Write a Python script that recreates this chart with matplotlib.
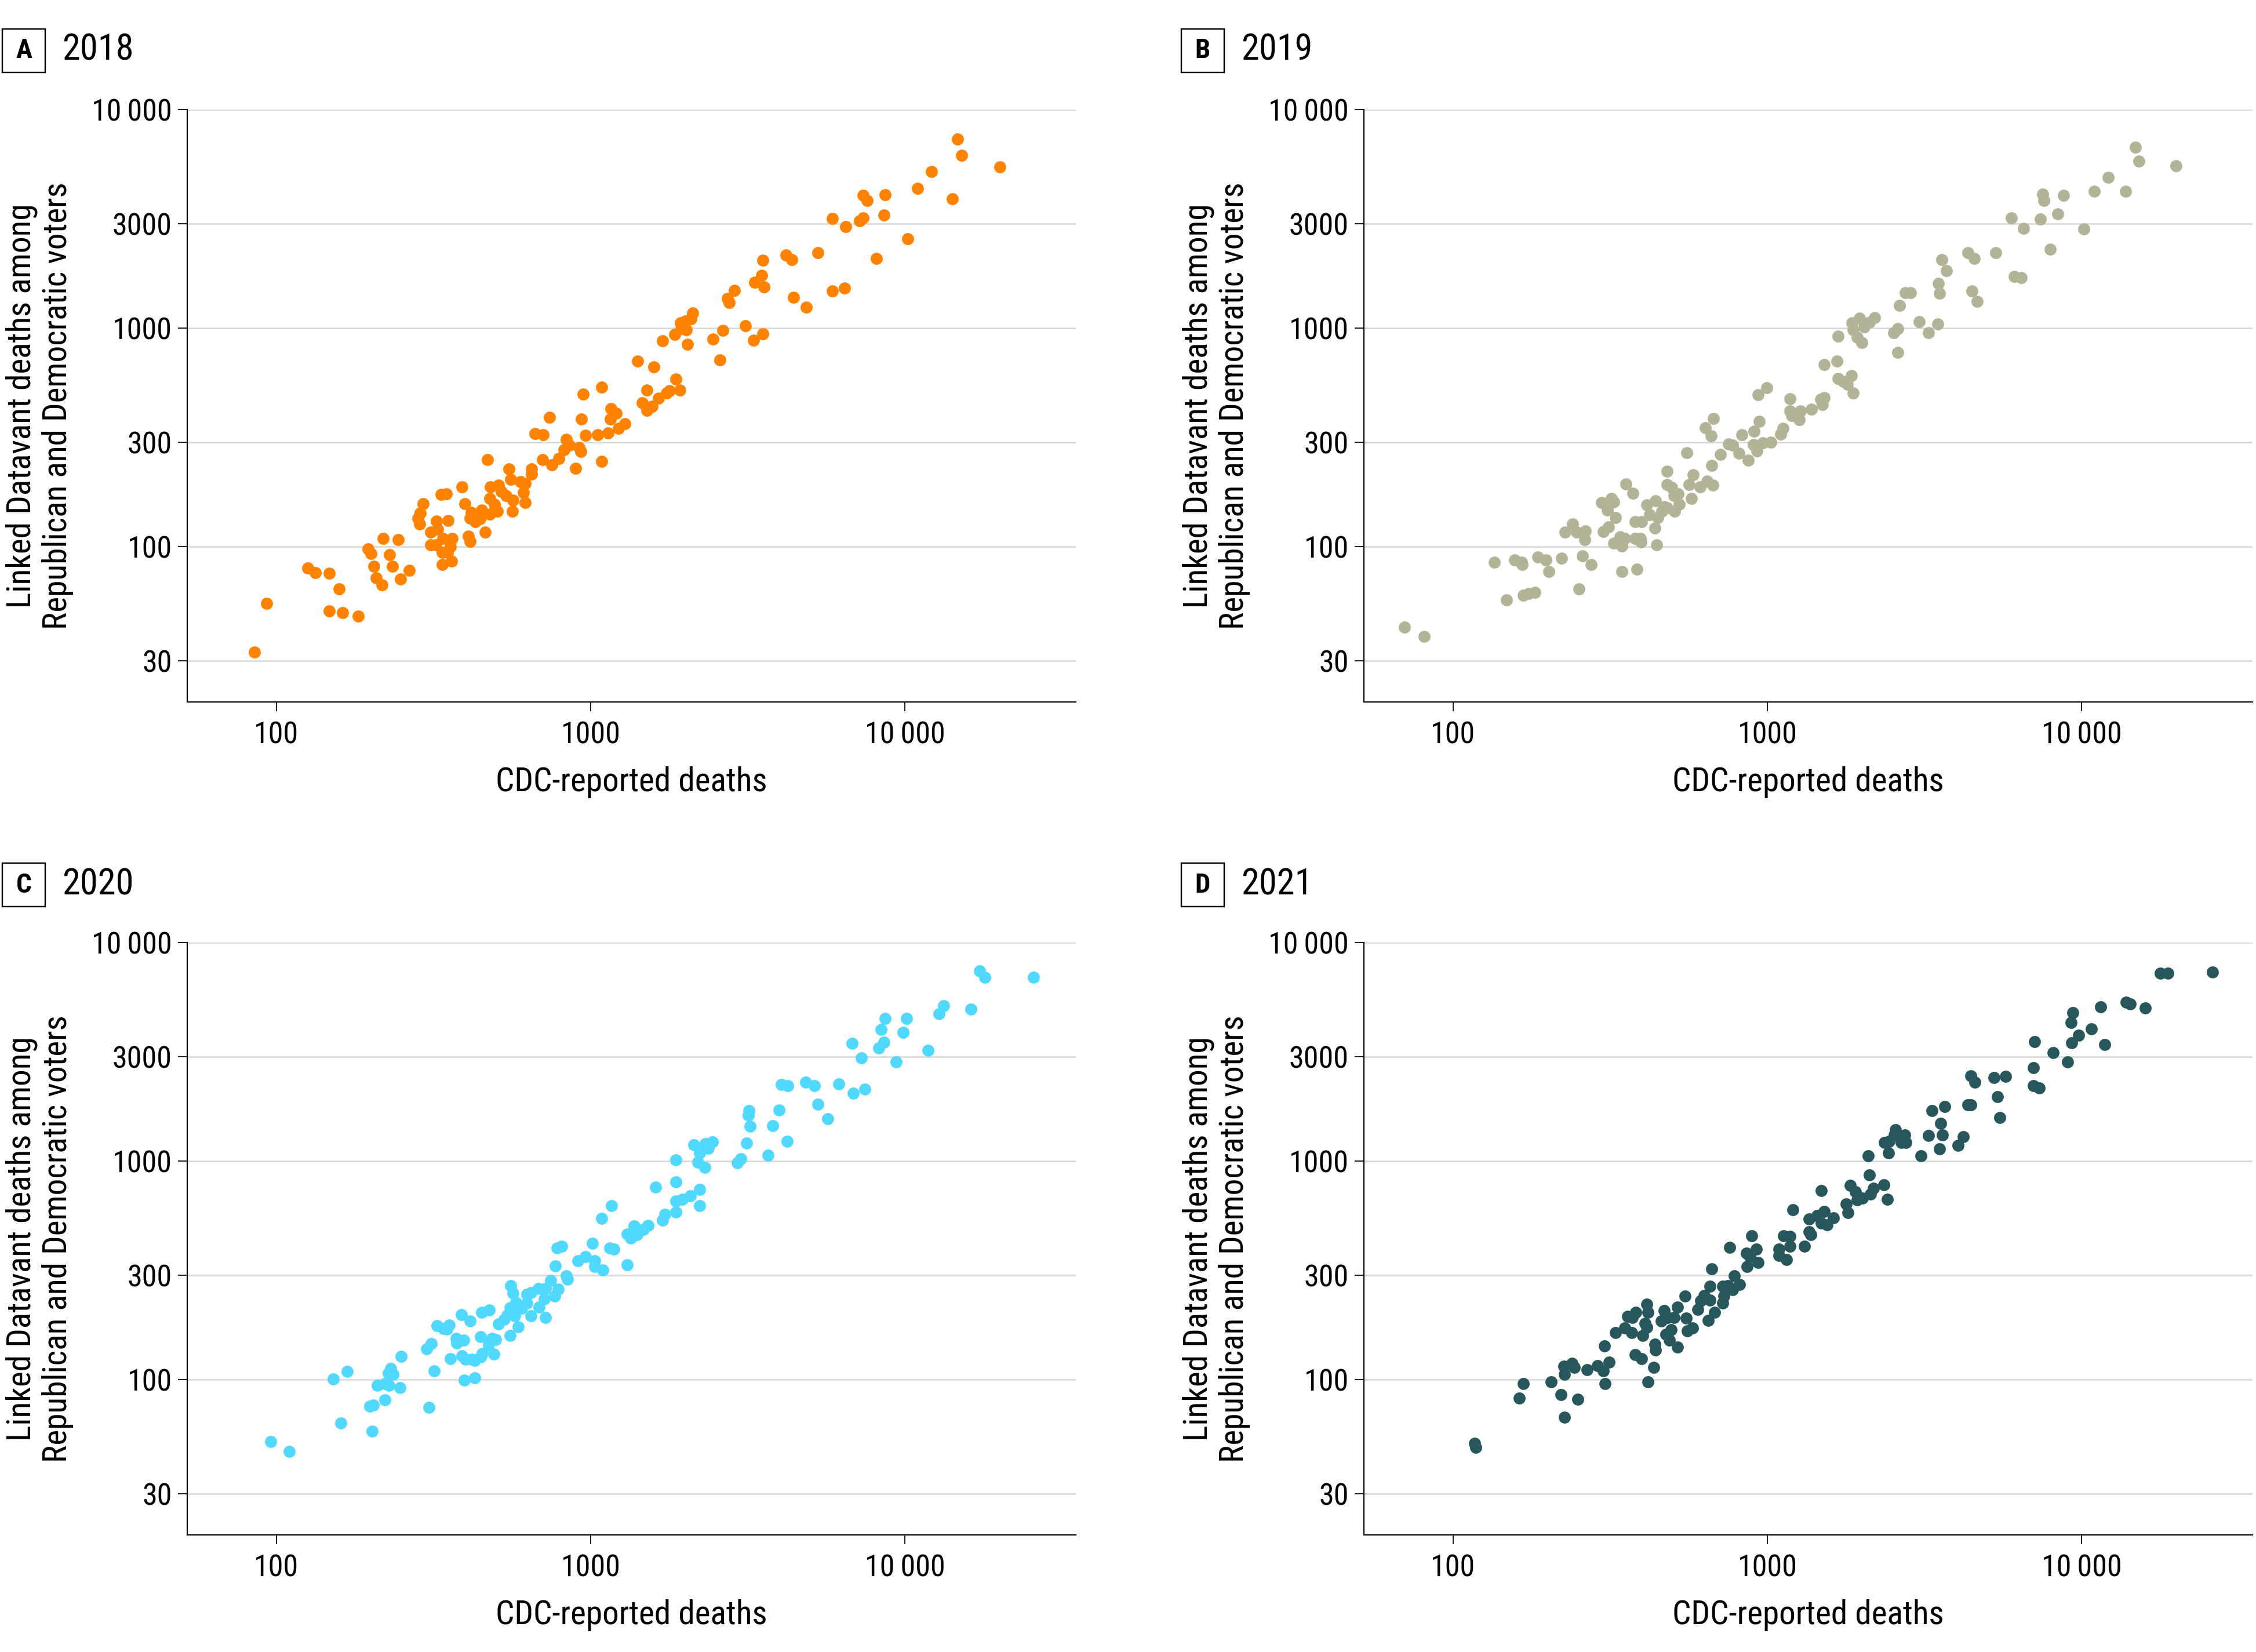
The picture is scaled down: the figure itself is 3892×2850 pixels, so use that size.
import numpy as np
import matplotlib
matplotlib.use("Agg")
import matplotlib.pyplot as plt
from matplotlib import font_manager
from matplotlib.patches import Rectangle

# (CDC-reported deaths, linked Datavant deaths) per state
deaths_2018 = [
    (85, 33), (93, 55), (126, 80), (133, 76), (147, 75.5), (147, 51), (162, 50), (158, 64), (182, 48),
    (196, 98), (200, 93), (219, 109), (244, 108), (204, 81.5), (208, 72), (217, 67), (229, 92), (234, 81.5),
    (248, 71), (265, 78), (282, 135), (287, 143), (293, 157), (285, 127), (309, 117), (323, 131), (326, 120),
    (309, 102), (322, 102), (334, 173), (347, 175), (352, 132), (339, 109), (363, 109), (337, 94), (350, 94),
    (358, 100), (337, 83), (361, 86), (389, 188), (398, 157), (417, 144), (413, 135), (430, 130), (450, 147),
    (445, 134), (408, 112), (413, 106), (461, 117), (470, 251), (480, 188), (477, 166), (493, 156), (477, 141),
    (504, 145), (509, 191), (520, 179), (537, 171), (550, 227), (556, 203), (566, 163), (564, 145), (599, 199),
    (619, 195), (610, 177), (619, 159), (648, 227), (648, 215), (665, 330), (705, 326), (702, 251), (741, 392),
    (752, 237), (791, 254), (835, 310), (853, 292), (821, 278), (895, 229), (917, 284), (930, 272), (945, 500),
    (933, 383), (964, 324), (1052, 326), (1084, 538), (1084, 245), (1135, 331), (1162, 428), (1206, 408),
    (1157, 383), (1224, 348), (1284, 366), (1409, 705), (1510, 521), (1462, 456), (1507, 420),
    (1592, 663), (1566, 440), (1644, 478), (1746, 504), (1783, 516), (1864, 583), (1920, 522), (1690, 874),
    (1848, 937), (1929, 1057), (1941, 995), (2001, 1078), (2018, 984), (2088, 1102), (2110, 1170), (2032, 843),
    (2455, 892), (2636, 975), (2576, 714), (2723, 1365), (2763, 1310), (2869, 1492), (3111, 1023), (3298, 878),
    (3537, 944), (3326, 1617), (3499, 1741), (3566, 1548), (3530, 2046), (4180, 2157), (4371, 2057),
    (4430, 1387), (4852, 1244), (5289, 2210), (5866, 3167), (5866, 1479), (6440, 1522), (6480, 2909),
    (7165, 3092), (7348, 3193), (7348, 4055), (7600, 3846), (8130, 2080), (8590, 3286), (8665, 4074),
    (10210, 2557), (10970, 4363), (12170, 5190), (14180, 3910), (14700, 7320), (15180, 6180), (20090, 5450),
]

deaths_2019 = [
    (70, 42.8), (81, 38.9), (135, 85), (148, 57), (157, 87), (165, 85), (166, 83), (167, 60), (174, 61),
    (182, 62), (186, 90), (197, 87), (202, 77), (221, 88.5), (227, 117), (240, 127), (247, 117), (263, 118),
    (262, 108), (258, 91), (275, 83), (251, 64), (297, 159), (310, 147), (319, 166), (325, 160), (328, 136),
    (300, 117.5), (312, 123), (325, 104), (340, 111), (352, 109), (344, 101), (345, 77), (354, 194), (374, 176),
    (379, 130), (397, 130), (379, 109), (395, 109), (396, 105), (384, 79), (414, 155), (440, 162), (423, 140),
    (448, 136), (439, 122), (445, 102), (480, 222), (480, 193), (496, 187), (505, 171), (520, 175), (469, 153),
    (461, 145), (479, 151), (507, 145), (524, 156), (553, 269), (564, 193), (581, 214), (572, 166), (610, 188),
    (644, 200), (672, 191), (634, 350), (673, 387), (662, 321), (666, 235), (709, 264), (752, 295), (776, 292),
    (812, 267), (830, 326), (869, 249), (906, 338), (904, 293), (925, 275), (935, 496), (942, 375), (967, 298),
    (994, 533), (1024, 301), (1102, 327), (1122, 347), (1182, 476), (1182, 417), (1195, 397), (1261, 381),
    (1274, 417), (1381, 425),
    (1476, 471), (1517, 480), (1500, 446), (1517, 683), (1663, 708), (1676, 918), (1676, 588), (1741, 571),
    (1796, 553), (1854, 605), (1874, 506), (1862, 1057), (1874, 983), (1935, 907), (2000, 857), (1963, 1110),
    (2031, 1016), (2113, 1067), (2197, 1119), (2528, 955), (2604, 995), (2604, 774), (2638, 1269), (2744, 1449),
    (2850, 1449), (3044, 1071), (3264, 955), (3491, 1045), (3499, 1598), (3537, 1445), (3590, 2055),
    (3722, 1834), (4355, 2210), (4560, 2088), (4483, 1479), (4650, 1327), (5330, 2210), (5980, 3193),
    (6535, 2863), (6095, 1726), (6415, 1698), (7380, 3155), (7520, 4104), (7600, 3846), (7960, 2300),
    (8410, 3326), (8770, 4055), (10150, 2851), (10970, 4240), (12150, 4884), (13830, 4230), (14830, 6726),
    (15210, 5810), (20000, 5520),
]

deaths_2020 = [
    (95.8, 52.2), (109.8, 47), (151.7, 101), (168, 109), (160, 63.2), (202, 58.3), (198, 75.5), (203, 76.7),
    (209.6, 94), (221, 96.2), (228, 94), (221, 80.9), (231, 112.7), (235, 106), (227.5, 107), (247, 92),
    (249.5, 128), (300, 138.7), (311, 146.6), (318, 110), (305.5, 74.6), (325, 176.6), (340, 171), (354, 178),
    (349, 170), (357, 124.7), (373, 154.5), (375, 147), (395, 152), (388, 198.6), (413, 185), (390, 128.8),
    (400, 123.8), (418, 124), (427, 122.7), (396, 99.8), (428, 101.9), (446, 127), (452, 131.5), (446, 157.8),
    (449, 203.6), (476, 208.6), (473, 144.4), (486, 154.5), (499, 152.8), (492, 131), (508, 179.5), (531, 189),
    (542, 197), (554, 159.7), (556, 270), (566, 249), (554, 213.8), (578, 225), (573, 195.6), (589, 174.6),
    (604, 212), (628, 224), (628, 246), (645, 250), (681, 262), (719, 262), (685, 215), (711, 234),
    (645, 195.6), (719, 193), (746, 284), (789, 259), (770, 241.5), (772, 331), (780, 400), (809, 408),
    (837, 299), (844, 288), (912, 350), (963, 365), (1029, 350), (1029, 330), (1094, 318), (1014, 420),
    (1082, 547), (1167, 627), (1152, 400), (1185, 395), (1306, 335), (1306, 465), (1343, 443), (1373, 504),
    (1403, 461), (1471, 486),
    (1520, 508), (1611, 762), (1691, 536), (1722, 569), (1867, 1011), (1867, 803), (1867, 656), (1867, 583),
    (1955, 667), (2080, 692), (2128, 1189), (2225, 1092), (2198, 986), (2307, 937), (2225, 743), (2225, 627),
    (2321, 1205), (2373, 1146), (2443, 1225), (2931, 984), (3006, 1023), (3134, 1209), (3170, 1617),
    (3190, 1698), (3222, 1444), (3665, 1066), (3792, 1456), (3983, 1711), (4217, 1233), (4043, 2237),
    (4240, 2218), (4843, 2291), (5146, 2210), (5290, 1819), (5670, 1560), (6149, 2254), (6860, 2046),
    (7465, 2130), (6793, 3449), (7265, 2970), (8245, 3286), (8570, 3490), (8395, 3990), (8635, 4505),
    (9375, 2840), (9860, 3890), (10130, 4505), (11860, 3220), (12820, 4710), (13270, 5150), (16220, 4965),
    (17290, 7410), (17980, 6920), (25660, 6920),
]

deaths_2021 = [
    (117, 51.2), (118, 49), (167, 95.9), (162, 82.6), (205, 97.8), (220, 85.6), (226, 67.4), (249, 81.5),
    (225, 115), (226, 106), (239, 119), (243, 114), (267, 111), (288, 116), (301, 110), (305, 95.9), (313, 120),
    (303, 143), (329, 164), (352, 172.6), (360, 195), (371, 193), (382, 203.6), (370, 164), (379, 130),
    (397, 124.7), (402, 158.9), (408, 181.6), (414, 173), (414, 222), (417, 203.6), (417, 97.8), (434, 113.7),
    (439, 145.5), (440, 136.5), (460, 185.4), (469, 207), (481, 193), (504, 193), (475, 161), (494, 169),
    (488, 151.4), (517, 215.4), (517, 140.8), (546, 241.5), (551, 191), (557, 167), (578, 172.6), (600, 209.4),
    (614, 229.6), (630, 243), (658, 231.7), (648, 187), (658, 267), (665, 320.6), (680, 203.6), (722, 224),
    (728, 241.5), (722, 267), (750, 269), (776, 258), (786, 298), (817, 272), (760, 402), (857, 380), (880, 365),
    (863, 330), (891, 456), (921, 395), (935, 343), (1089, 395), (1089, 371), (1148, 355), (1124, 456),
    (1182, 408), (1182, 452), (1208, 600), (1312, 408), (1358, 542), (1358, 476), (1377, 461), (1443, 565),
    (1485, 521), (1485, 735), (1518, 588), (1546, 510), (1621, 549), (1779, 638), (1808, 581), (1835, 774),
    (1906, 726), (1935, 664), (2010, 678), (2128, 705), (2174, 750), (2113, 863), (2094, 1057), (2350, 780),
    (2405, 670), (2355, 1218), (2443, 1233), (2432, 1092), (2558, 1393), (2535, 1321), (2667, 1218),
    (2740, 1321), (2762, 1218), (3076, 1057), (3257, 1306), (3335, 1698), (3560, 1491), (3610, 1321),
    (3525, 1137), (3675, 1782), (4045, 1180), (4210, 1295), (4352, 1804), (4437, 1804), (4449, 2454),
    (4581, 2298), (5270, 2404), (5737, 2443), (5393, 1965), (5488, 1585), (7015, 2210), (7346, 2165),
    (7040, 2673), (7098, 3519), (8113, 3142), (9014, 2839), (9290, 3476), (9270, 4307), (9385, 4786),
    (9800, 3756), (10750, 4021), (11830, 3420), (11510, 5085), (13870, 5339), (14280, 5230), (15950, 5025),
    (17780, 7230), (18830, 7230), (26070, 7320),
]

panel_letters = ["A", "B", "C", "D"]
panel_years = ["2018", "2019", "2020", "2021"]
panel_colors = ["#FF8200", "#B3B397", "#50D8FF", "#27575A"]

y_ticks = [30, 100, 300, 1000, 3000, 10000]
y_ticklabels = ["30", "100", "300", "1000", "3000", "10\u2009000"]
x_ticks = [100, 1000, 10000]
x_ticklabels = ["100", "1000", "10\u2009000"]


def pick_font():
    names = {f.name for f in font_manager.fontManager.ttflist}
    for cand in ["Liberation Sans Narrow", "Roboto Condensed", "Open Sans Condensed", "Noto Sans Condensed"]:
        if cand in names:
            return [cand, "DejaVu Sans"], "normal"
    for f in font_manager.fontManager.ttflist:
        if f.name == "DejaVu Sans" and f.stretch in ("condensed", "semi-condensed"):
            return ["DejaVu Sans"], "condensed"
    return ["DejaVu Sans"], "normal"


family, stretch = pick_font()
plt.rcParams["font.family"] = family
plt.rcParams["font.stretch"] = stretch
plt.rcParams["font.size"] = 15

fig = plt.figure(figsize=(15.568, 11.4), dpi=250)

W, H = 3892.0, 2850.0
ax_w = 1533 / W
ax_h = 1022 / H
ax_left = [323 / W, 2353 / W]
ax_bottom = [1 - 1211 / H, 1 - 2648 / H]
box_left = [4 / W, 2038 / W]
box_center = [1 - 87 / H, 1 - 1527 / H]

all_data = [deaths_2018, deaths_2019, deaths_2020, deaths_2021]

for i, data in enumerate(all_data):
    row, col = divmod(i, 2)
    ax = fig.add_axes([ax_left[col], ax_bottom[row], ax_w, ax_h])
    cdc = [d[0] for d in data]
    linked = [d[1] for d in data]
    ax.scatter(cdc, linked, s=36, color=panel_colors[i], linewidths=0, zorder=3)

    ax.set_xscale("log")
    ax.set_yscale("log")
    ax.set_xlim(52, 35000)
    ax.set_ylim(19.5, 10000)
    ax.set_xticks(x_ticks)
    ax.set_xticklabels(x_ticklabels)
    ax.set_yticks(y_ticks)
    ax.set_yticklabels(y_ticklabels)
    ax.minorticks_off()
    ax.tick_params(axis="both", length=4.5, width=0.5, color="black", labelsize=15)
    ax.tick_params(axis="x", pad=5)
    ax.tick_params(axis="y", pad=3)
    ax.grid(axis="y", color="#d9d9d9", linewidth=0.8, zorder=0)
    ax.set_axisbelow(True)
    for side in ["top", "right"]:
        ax.spines[side].set_visible(False)
    for side in ["left", "bottom"]:
        ax.spines[side].set_linewidth(0.6)

    ax.set_xlabel("CDC-reported deaths", fontsize=16.5, labelpad=8)
    ax.set_ylabel("Linked Datavant deaths among\nRepublican and Democratic voters",
                  fontsize=16.5, linespacing=1.15)
    ax.yaxis.set_label_coords(-0.128, 0.5)

    # panel letter box and year
    bw, bh = 74 / W, 75 / H
    bx = box_left[col]
    by = box_center[row] - bh / 2
    fig.patches.append(Rectangle((bx, by), bw, bh, transform=fig.transFigure,
                                 fill=False, edgecolor="black", linewidth=0.7))
    fig.text(bx + bw / 2, box_center[row], panel_letters[i], ha="center", va="center",
             fontsize=13.5, fontweight="bold")
    fig.text(bx + 103 / W, box_center[row], panel_years[i], ha="left", va="center", fontsize=18)

fig.savefig("out.png", dpi=250, facecolor="white")
